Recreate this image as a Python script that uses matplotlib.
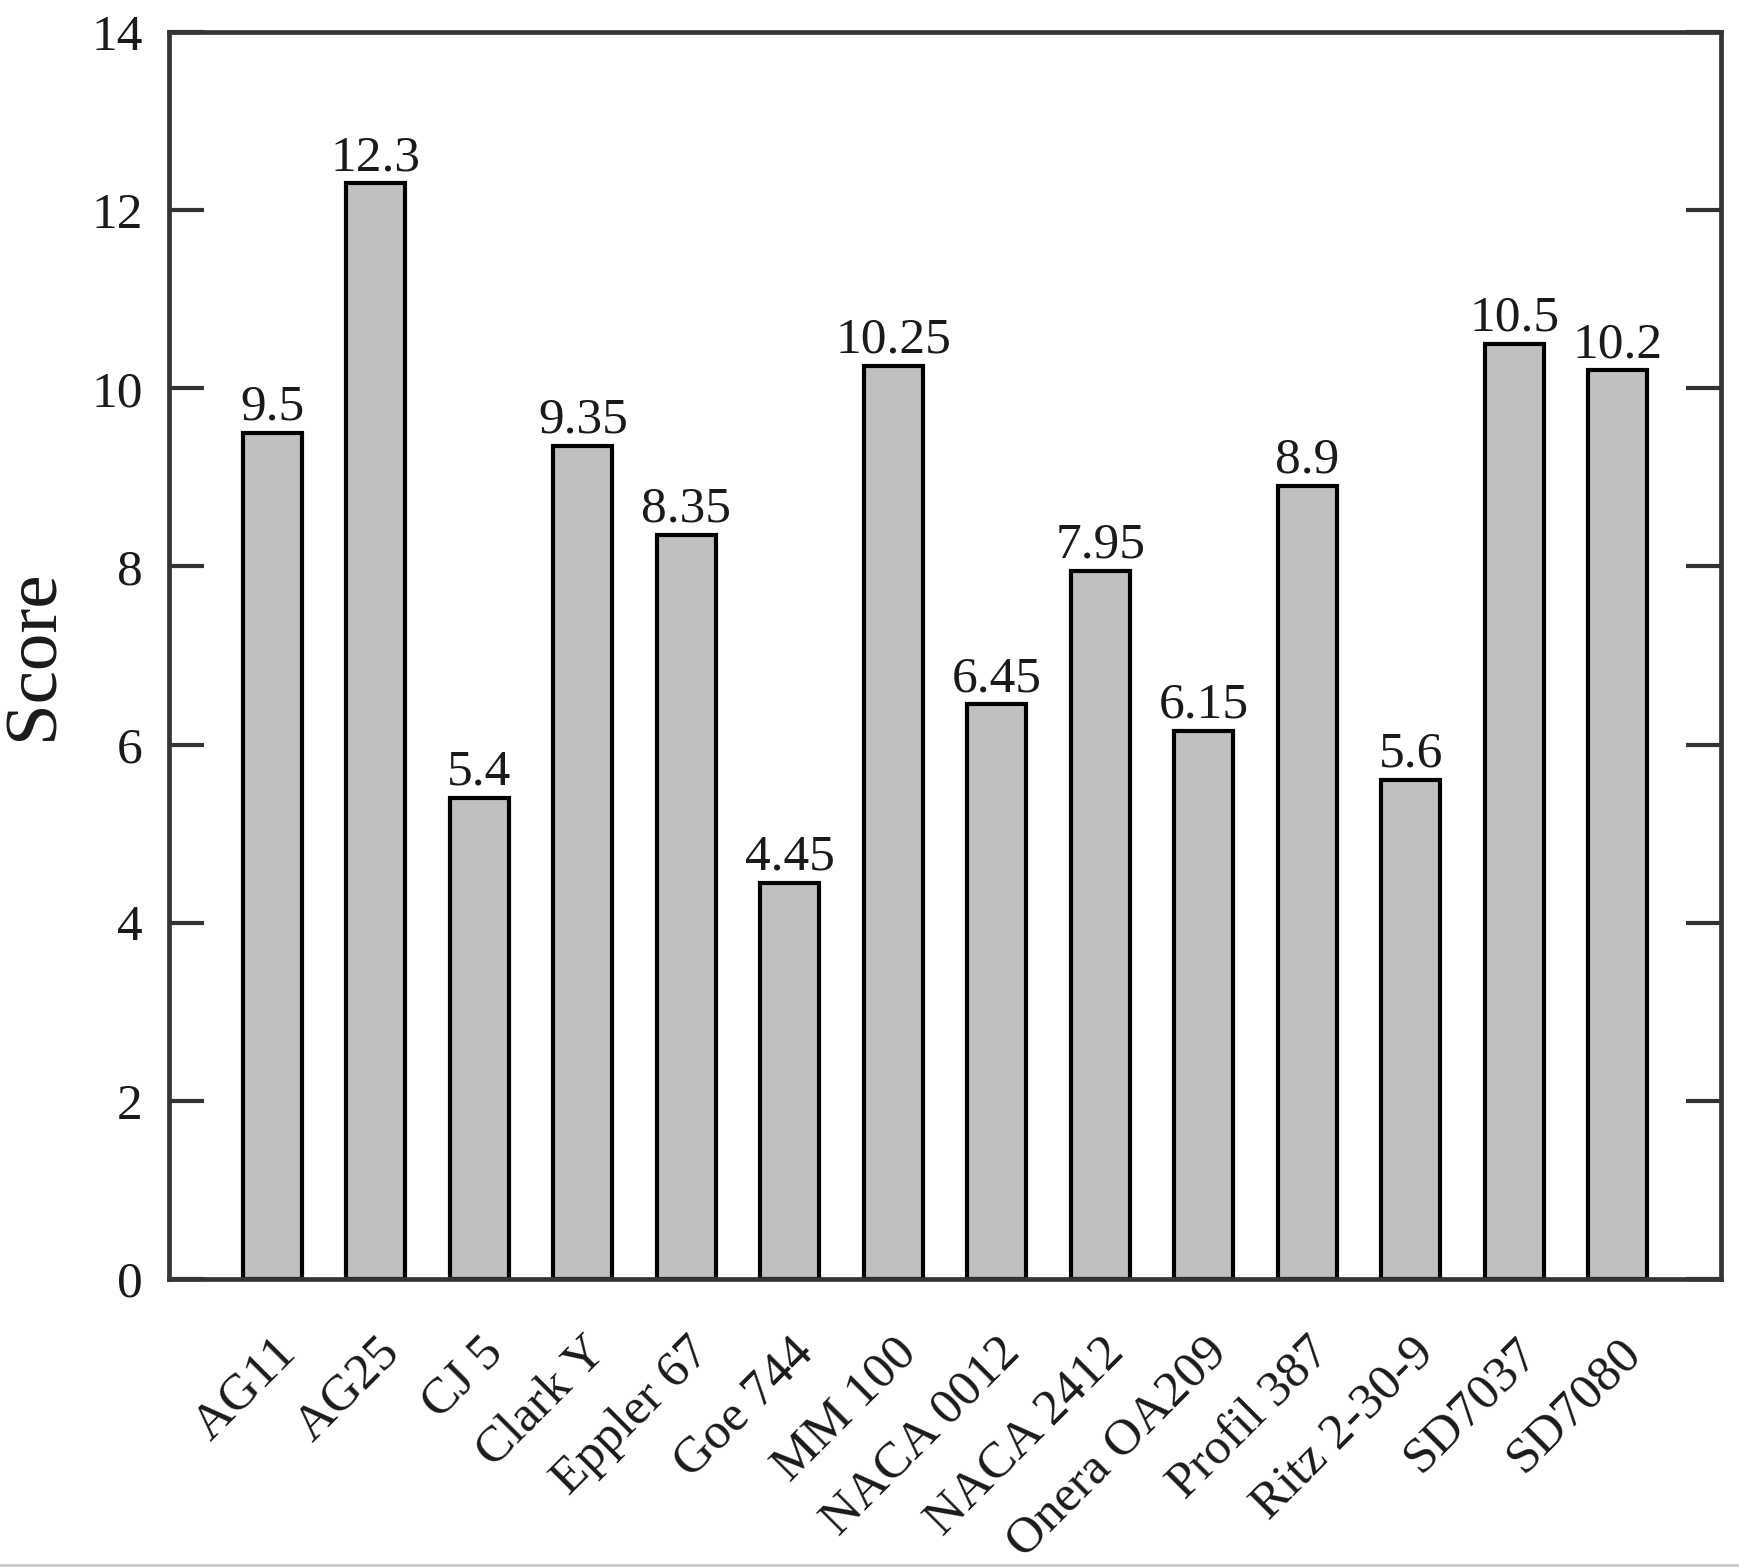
import matplotlib
matplotlib.use("Agg")
import matplotlib.pyplot as plt
from matplotlib.lines import Line2D

categories = ["AG11", "AG25", "CJ 5", "Clark Y", "Eppler 67", "Goe 744", "MM 100",
              "NACA 0012", "NACA 2412", "Onera OA209", "Profil 387", "Ritz 2-30-9",
              "SD7037", "SD7080"]
scores = [9.5, 12.3, 5.4, 9.35, 8.35, 4.45, 10.25, 6.45, 7.95, 6.15, 8.9, 5.6, 10.5, 10.2]
value_labels = ["9.5", "12.3", "5.4", "9.35", "8.35", "4.45", "10.25", "6.45", "7.95",
                "6.15", "8.9", "5.6", "10.5", "10.2"]
yticks = [0, 2, 4, 6, 8, 10, 12, 14]

plt.rcParams['font.family'] = ['Liberation Serif', 'DejaVu Serif']

fig = plt.figure(figsize=(17.39, 15.67), dpi=100)
ax = fig.add_axes([169/1739, 1 - 1279/1567, (1721-169)/1739, (1279-32)/1567])

x = list(range(len(categories)))
ax.bar(x, scores, width=0.57, color='#c0c0c0', edgecolor='black', linewidth=3.0, zorder=2)
for xi, v, lab in zip(x, scores, value_labels):
    ax.text(xi, v + 0.15, lab, ha='center', va='baseline', fontsize=37, color='#1a1a1a')

ax.set_xlim(-1, 14)
ax.set_ylim(0, 14)
ax.set_yticks(yticks)
ax.set_yticklabels([str(t) for t in yticks], fontsize=37, color='#1a1a1a')
ax.set_xticks(x)
ax.set_xticklabels(categories, rotation=45, ha='right', va='top', rotation_mode='anchor',
                   fontsize=37, color='#1a1a1a')
ax.tick_params(axis='x', length=0, pad=36)
ax.tick_params(axis='y', direction='in', length=25, width=3, color='#333333', pad=19,
               right=True, left=True)
for s in ax.spines.values():
    s.set_linewidth(3.4)
    s.set_color('#353535')

fig.text(35/1739, 1 - 655/1567, "Score", rotation=90, ha='center', va='center',
         fontsize=54, color='#1a1a1a')

fig.add_artist(Line2D([0, 1], [1 - 1565/1567, 1 - 1565/1567], transform=fig.transFigure,
                      color='#c8c8c8', linewidth=2))

fig.savefig("out.png", dpi=100)
